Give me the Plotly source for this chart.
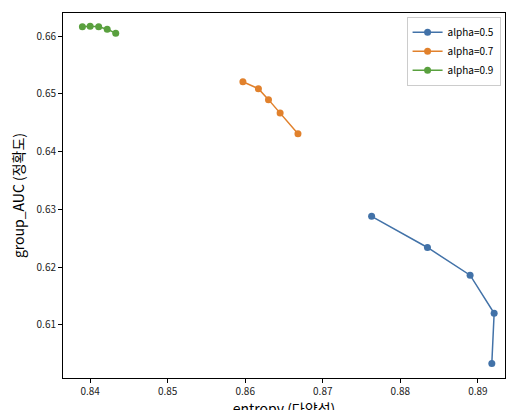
import plotly.graph_objects as go

labels = ["alpha=0.5", "alpha=0.7", "alpha=0.9"]
colors = ["#4272a8", "#e1812c", "#59a03e"]
entropy = [
    [0.8763, 0.8835, 0.8890, 0.8921, 0.8918],
    [0.8597, 0.8617, 0.8630, 0.8645, 0.8668],
    [0.8390, 0.8400, 0.8411, 0.8422, 0.8433],
]
group_auc = [
    [0.6288, 0.6234, 0.6186, 0.6120, 0.6033],
    [0.6521, 0.6509, 0.6490, 0.6467, 0.6431],
    [0.6616, 0.6617, 0.6616, 0.6612, 0.6605],
]

fig = go.Figure()
for name, c, xs, ys in zip(labels, colors, entropy, group_auc):
    fig.add_trace(go.Scatter(x=xs, y=ys, name=name, mode="lines+markers",
                             line=dict(color=c, width=1.5),
                             marker=dict(color=c, size=7)))

axis = dict(showgrid=False, zeroline=False, showline=True, linecolor="black",
            mirror=True, ticks="outside", ticklen=4, tickcolor="black",
            tickfont=dict(size=10, color="#222"))
fig.update_layout(
    autosize=True, margin=dict(l=55, r=1, t=5, b=40),
    plot_bgcolor="white", paper_bgcolor="white",
    font=dict(family="Noto Sans CJK KR, Noto Sans", color="black"),
    xaxis=dict(axis, range=[0.8365, 0.8935], dtick=0.01, tickformat=".2f",
               title=dict(text="entropy (다양성)", font=dict(size=14), standoff=6)),
    yaxis=dict(axis, range=[0.6008, 0.6640], dtick=0.01, tickformat=".2f",
               title=dict(text="group_AUC (정확도)", font=dict(size=14), standoff=8)),
    legend=dict(x=0.99, y=0.99, xanchor="right", yanchor="top",
                bordercolor="#ccc", borderwidth=1, font=dict(size=10)),
)
fig.write_html("out.html", default_width="100%", default_height="100vh")
